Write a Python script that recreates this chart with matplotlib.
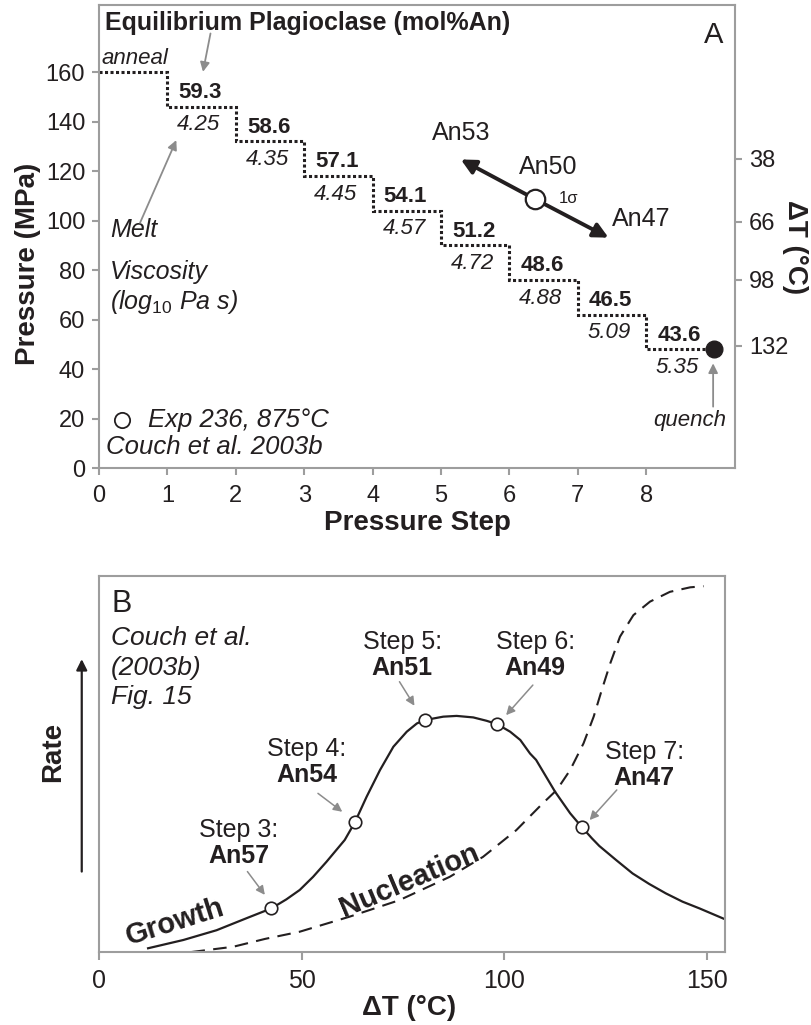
import matplotlib
matplotlib.use("Agg")
import matplotlib.pyplot as plt

plt.rcParams['font.family'] = ['Liberation Sans', 'DejaVu Sans']
plt.rcParams['mathtext.fontset'] = 'custom'
plt.rcParams['mathtext.rm'] = 'Liberation Sans'
plt.rcParams['mathtext.it'] = 'Liberation Sans:italic'

INK = '#231f20'
GRID = '#9d9d9d'
ARROW = '#8c8c8c'

# ---- panel A: decompression path ----
step_edges = [0, 1, 2, 3, 4, 5, 6, 7, 8, 9]
pressure = [160, 146, 132, 118, 104, 90, 76, 62, 48]          # MPa held in each step
an_eq = ['59.3', '58.6', '57.1', '54.1', '51.2', '48.6', '46.5', '43.6']
visc = ['4.25', '4.35', '4.45', '4.57', '4.72', '4.88', '5.09', '5.35']
dT_tick_p = [125, 99.5, 76, 49.5]
dT_tick_lab = ['38', '66', '98', '132']
quench = (9.0, 48)
exp236 = (6.38, 108.6)
exp236_lo = (5.29, 124.7)    # An53 end
exp236_hi = (7.45, 93.1)     # An47 end

# ---- panel B: Couch et al. rate curves ----
growth_dt = [12.1, 20.8, 29.0, 36.4, 42.5, 46.2, 49.5, 52.8, 56.1, 60.6, 63.1, 66.0,
             69.3, 72.6, 75.9, 78.4, 80.4, 84.9, 88.2, 92.3, 95.6, 98.2, 101.4, 103.9,
             106.3, 107.8, 112.5, 116.2, 119.1, 121.6, 123.4, 127.5, 131.6, 135.7,
             139.8, 143.9, 148.1, 154.2]
growth_rate = [0.010, 0.032, 0.058, 0.090, 0.116, 0.140, 0.165, 0.200, 0.240, 0.298,
               0.345, 0.413, 0.484, 0.546, 0.586, 0.608, 0.617, 0.626, 0.628, 0.624,
               0.615, 0.606, 0.586, 0.564, 0.528, 0.511, 0.426, 0.369, 0.332, 0.302,
               0.282, 0.245, 0.209, 0.181, 0.156, 0.134, 0.116, 0.088]
nuc_dt = [22.8, 33.1, 41.0, 49.5, 61.8, 74.1, 86.5, 94.7, 102.9, 109.4, 112.9, 116.2,
          119.5, 122.0, 124.0, 126.1, 128.5, 131.8, 135.9, 140.8, 145.8, 149.1]
nuc_rate = [0.0, 0.014, 0.035, 0.054, 0.094, 0.138, 0.200, 0.253, 0.324, 0.395, 0.431,
            0.484, 0.555, 0.626, 0.697, 0.768, 0.839, 0.896, 0.932, 0.958, 0.970, 0.973]
step_dt = [42.5, 63.1, 80.4, 98.2, 119.1]
step_rate = [0.116, 0.345, 0.617, 0.606, 0.332]
step_names = ['Step 3:', 'Step 4:', 'Step 5:', 'Step 6:', 'Step 7:']
step_an = ['An57', 'An54', 'An51', 'An49', 'An47']
label_xy = [(34.5, 0.324), (51.2, 0.539), (74.8, 0.825), (107.6, 0.825), (134.5, 0.533)]
arrow_from = [(36.6, 0.214), (54.0, 0.422), (74.1, 0.719), (107.0, 0.710), (127.7, 0.431)]
arrow_to = [(40.9, 0.152), (60.0, 0.373), (77.8, 0.655), (100.4, 0.630), (121.0, 0.351)]


def frame(ax):
    for s in ax.spines.values():
        s.set_color(GRID)
        s.set_linewidth(1.5)
    ax.tick_params(colors=GRID, labelcolor=INK, length=5, width=1.5)


def pointer(ax, tip, tail, color=ARROW, lw=1.3, size=14):
    ax.annotate('', xy=tip, xytext=tail,
                arrowprops=dict(arrowstyle='-|>', color=color, lw=lw, mutation_scale=size,
                                shrinkA=0, shrinkB=0))


fig = plt.figure(figsize=(8.11, 10.25), dpi=100)
axA = fig.add_axes([0.1221, 0.5434, 0.7842, 0.4517])
axB = fig.add_axes([0.1221, 0.0712, 0.7719, 0.3668])

# ------------------------------------------------------------- A
frame(axA)
axA.set_xlim(0, 9.30)
axA.set_ylim(0, 187.1)
axA.set_xticks(range(9))
axA.set_yticks(range(0, 161, 20))
axA.tick_params(labelsize=17, pad=5)
axA.tick_params(axis='x', pad=7)
axA.text(0.5, -0.119, 'Pressure Step', transform=axA.transAxes, fontsize=20,
         fontweight='bold', color=INK, ha='center', va='center')
axA.text(-0.112, 0.44, 'Pressure (MPa)', transform=axA.transAxes, fontsize=20,
         fontweight='bold', color=INK, ha='center', va='center', rotation=90)

axA.stairs(pressure, step_edges, baseline=None, color=INK, lw=2.2,
           linestyle=(0, (1, 0.8)))
for i in range(1, 9):
    axA.text(i + 0.48, pressure[i] + 5.7, an_eq[i - 1], fontsize=16, fontweight='bold',
             color=INK, ha='center', va='center')
    axA.text(i + 0.46, pressure[i] - 7.3, visc[i - 1], fontsize=16, fontstyle='italic',
             color=INK, ha='center', va='center')

axA.plot(*quench, 'o', color=INK, ms=12, zorder=5)
axA.text(0.04, 165.6, 'anneal', fontsize=16, fontstyle='italic', color=INK, va='center')
axA.text(0.09, 179.7, 'Equilibrium Plagioclase (mol%An)', fontsize=18, fontweight='bold',
         color=INK, va='center')
axA.text(8.98, 175, 'A', fontsize=21, color=INK, ha='center', va='center')
pointer(axA, (1.52, 160.1), (1.63, 175.6))

for txt, p in [('Melt', 96), ('Viscosity', 79.3), (r'(log$_{\mathit{10}}$ Pa s)', 67.2)]:
    axA.text(0.16, p, txt, fontsize=18, fontstyle='italic', color=INK, va='center')
pointer(axA, (1.13, 132.5), (0.60, 99.1))

axA.plot(0.33, 19.4, 'o', mfc='white', mec=INK, ms=11, mew=1.3)
axA.text(0.72, 19.4, 'Exp 236, 875°C', fontsize=18.5, fontstyle='italic', color=INK,
         va='center')
axA.text(0.10, 8.6, 'Couch et al. 2003b', fontsize=18.5, fontstyle='italic', color=INK,
         va='center')

axA.text(8.64, 19.4, 'quench', fontsize=16, fontstyle='italic', color=INK, ha='center',
         va='center')
pointer(axA, (8.98, 42.3), (8.98, 24.8))

# Exp 236 composition with its 1-sigma spread
for end in (exp236_lo, exp236_hi):
    pointer(axA, end, exp236, color=INK, lw=2.8, size=22)
axA.plot(*exp236, 'o', mfc='white', mec=INK, ms=14, mew=1.6, zorder=5)
axA.text(5.30, 135.2, 'An53', fontsize=18, color=INK, ha='center', va='center')
axA.text(6.57, 121.7, 'An50', fontsize=18, color=INK, ha='center', va='center')
axA.text(6.87, 109, '1σ', fontsize=12, color=INK, ha='center', va='center')
axA.text(7.93, 100.6, 'An47', fontsize=18, color=INK, ha='center', va='center')

axR = axA.twinx()
axR.set_ylim(axA.get_ylim())
axR.set_yticks(dT_tick_p, dT_tick_lab)
for s in axR.spines.values():
    s.set_visible(False)
axR.tick_params(colors=GRID, labelcolor=INK, length=5, width=1.5, labelsize=17, pad=5)
axA.text(1.094, 0.477, 'ΔT (°C)', transform=axA.transAxes, fontsize=20,
         fontweight='bold', color=INK, ha='center', va='center', rotation=270)

# ------------------------------------------------------------- B
frame(axB)
axB.set_xlim(0, 154.4)
axB.set_ylim(0, 1)
axB.set_xticks([0, 50, 100, 150])
axB.set_yticks([])
axB.tick_params(labelsize=18, pad=6, length=6)
axB.text(0.495, -0.149, 'ΔT (°C)', transform=axB.transAxes, fontsize=20,
         fontweight='bold', color=INK, ha='center', va='center')

axB.plot(growth_dt, growth_rate, color=INK, lw=1.6)
axB.plot(nuc_dt, nuc_rate, color=INK, lw=1.5, linestyle=(0, (6.5, 4)))
axB.plot(step_dt, step_rate, 'o', mfc='white', mec=INK, ms=9, mew=1.2, zorder=5)

for name, an, (x, y), a0, a1 in zip(step_names, step_an, label_xy, arrow_from, arrow_to):
    axB.text(x, y, name, fontsize=18, color=INK, ha='center', va='center')
    axB.text(x, y - 0.069, an, fontsize=18, fontweight='bold', color=INK, ha='center',
             va='center')
    pointer(axB, a1, a0, lw=1.1, size=13)

axB.text(3.1, 0.925, 'B', fontsize=22, color=INK, va='center')
for txt, y in [('Couch et al.', 0.834), ('(2003b)', 0.755), ('Fig. 15', 0.677)]:
    axB.text(3.0, y, txt, fontsize=19, fontstyle='italic', color=INK, va='center')

axB.text(18.7, 0.081, 'Growth', fontsize=21, fontweight='bold', color=INK, rotation=17.5,
         ha='center', va='center', rotation_mode='anchor')
axB.text(76.6, 0.191, 'Nucleation', fontsize=21, fontweight='bold', color=INK, rotation=23,
         ha='center', va='center', rotation_mode='anchor')

axB.text(-0.073, 0.531, 'Rate', transform=axB.transAxes, fontsize=20, fontweight='bold',
         color=INK, rotation=90, ha='center', va='center')
axB.annotate('', xy=(-0.0276, 0.779), xytext=(-0.0276, 0.214), xycoords='axes fraction',
             textcoords='axes fraction', annotation_clip=False,
             arrowprops=dict(arrowstyle='-|>', color=INK, lw=1.6, mutation_scale=16,
                             shrinkA=0, shrinkB=0))

fig.savefig('out.png', dpi=100)
